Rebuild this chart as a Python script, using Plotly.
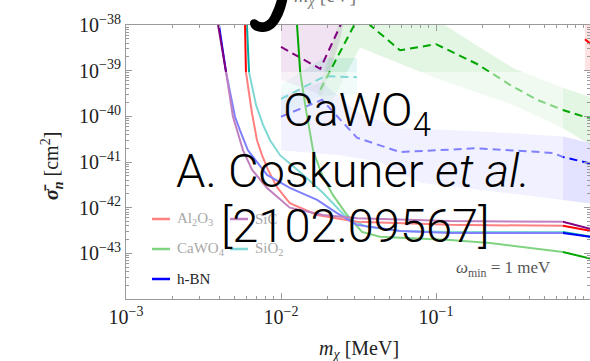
import plotly.graph_objects as go

# ---------------- reach curves, omega_min = 1 meV  (m_chi in MeV, sigma_n in cm^2)
al2o3_m = [5.77e-3, 5.86e-3, 5.94e-3, 6.03e-3, 6.50e-3, 7.00e-3, 7.54e-3, 8.24e-3,
           9.42e-3, 1.14e-2, 1.71e-2, 3.09e-2, 0.123, 0.659, 1.0]
al2o3_s = [2.1e-38, 1.0e-38, 9.3e-40, 6.3e-40, 1.17e-40, 3.0e-41, 1.41e-41, 6.8e-42,
           2.8e-42, 1.26e-42, 6.9e-43, 4.9e-43, 4.2e-43, 4.0e-43, 3.1e-43]

sic_m = [3.81e-3, 3.93e-3, 4.42e-3, 4.90e-3, 5.20e-3, 5.69e-3, 6.50e-3, 8.13e-3,
         1.14e-2, 1.87e-2, 3.09e-2, 0.123, 0.659, 1.0]
sic_s = [2.1e-38, 1.0e-38, 9.3e-40, 9.8e-41, 5.0e-41, 1.8e-41, 6.8e-42, 2.7e-42,
         1.0e-42, 6.9e-43, 5.9e-43, 5.1e-43, 4.9e-43, 3.4e-43]

hbn_m = [3.81e-3, 3.98e-3, 4.42e-3, 5.05e-3, 5.43e-3, 6.12e-3, 8.13e-3, 1.14e-2,
         1.71e-2, 2.30e-2, 3.09e-2, 5.86e-2, 0.123, 0.659, 1.0]
hbn_s = [2.1e-38, 1.0e-38, 9.3e-40, 9.8e-41, 5.0e-41, 1.8e-41, 5.2e-42, 2.7e-42,
         1.48e-42, 7.6e-43, 4.2e-43, 3.1e-43, 2.8e-43, 2.8e-43, 2.3e-43]

sio2_m = [6.00e-3, 6.03e-3, 6.22e-3, 6.90e-3, 7.66e-3, 8.50e-3, 9.86e-3, 1.33e-2,
          1.87e-2, 2.67e-2, 3.59e-2, 5.86e-2, 0.123, 0.659, 1.0]
sio2_s = [2.1e-38, 1.0e-38, 9.3e-40, 1.78e-40, 6.5e-41, 3.0e-41, 1.41e-41, 6.0e-42,
          2.1e-42, 5.9e-43, 3.8e-43, 3.1e-43, 2.95e-43, 2.95e-43, 2.3e-43]

cawo4_m = [1.25e-2, 1.27e-2, 1.33e-2, 1.45e-2, 1.61e-2, 1.84e-2, 2.16e-2, 2.67e-2,
           3.33e-2, 4.35e-2, 0.123, 0.223, 0.659, 1.0]
cawo4_s = [2.1e-38, 1.0e-38, 9.3e-40, 1.38e-40, 1.8e-41, 5.2e-42, 1.9e-42, 6.9e-43,
           2.95e-43, 2.3e-43, 1.95e-43, 1.69e-43, 1.07e-43, 7.6e-44]

# ---------------- daily-modulation cross sections (dashed)
sic_mod_m = [1.0e-2, 1.79e-2, 2.44e-2, 2.62e-2]
sic_mod_s = [3.3e-39, 1.10e-39, 1.05e-38, 2.1e-38]

cawo4_mod_m = [1.79e-2, 3.00e-2, 3.33e-2, 3.75e-2, 5.86e-2, 0.10, 0.184, 0.300, 0.449, 0.659, 0.957, 1.0]
cawo4_mod_s = [3.8e-40, 1.17e-38, 2.1e-38, 1.0e-38, 2.8e-39, 3.8e-39, 1.40e-39, 4.9e-40,
               2.3e-40, 1.38e-40, 9.2e-41, 8.8e-41]

sio2_mod_m = [1.0e-2, 1.92e-2, 3.09e-2]
sio2_mod_s = [2.4e-40, 7.6e-40, 7.2e-40]

hbn_mod_m = [1.0e-2, 1.84e-2, 3.09e-2, 5.86e-2, 0.184, 0.569, 0.659, 0.957, 1.0]
hbn_mod_s = [9.8e-41, 2.3e-40, 3.4e-41, 1.65e-41, 2.0e-41, 1.58e-41, 1.29e-41, 9.5e-42, 9.2e-42]

al2o3_mod_m = [0.914, 1.0]
al2o3_mod_s = [4.9e-39, 3.8e-39]

# ---------------- uncertainty bands (closed outlines)
sic_band_m = [1.0e-2, 2.79e-2, 2.40e-2, 1.84e-2, 1.0e-2]
sic_band_s = [4.6e-38, 4.6e-38, 4.7e-39, 2.9e-40, 6.3e-40]

cawo4_band_m = [1.73e-2, 2.33e-2, 2.40e-2, 0.106, 0.114, 0.192, 0.314, 0.659, 1.14,
                1.14, 0.659, 0.314, 0.106, 3.23e-2, 2.07e-2]
cawo4_band_s = [2.9e-40, 1.0e-38, 4.6e-38, 4.6e-38, 1.0e-38, 3.2e-39, 1.15e-39, 4.2e-40, 2.3e-40,
                1.8e-41, 5.5e-41, 1.78e-40, 6.3e-40, 3.2e-39, 1.78e-40]

sio2_band_m = [1.0e-2, 1.87e-2, 3.09e-2, 3.09e-2, 1.87e-2, 1.0e-2]
sio2_band_s = [4.9e-40, 1.9e-39, 1.9e-39, 2.9e-40, 2.9e-40, 1.07e-40]

hbn_band_m = [1.0e-2, 1.84e-2, 3.09e-2, 5.86e-2, 0.173, 0.659, 1.14,
              1.14, 0.659, 7.9e-2, 4.35e-2, 2.40e-2, 1.0e-2]
hbn_band_s = [2.9e-40, 5.6e-40, 1.26e-40, 5.5e-41, 4.8e-41, 3.6e-41, 2.3e-41,
              1.15e-42, 1.48e-42, 3.5e-42, 1.0e-41, 1.41e-41, 1.8e-41]

al2o3_band_m = [0.914, 1.14, 1.14, 0.914]
al2o3_band_s = [4.6e-38, 4.6e-38, 1.03e-39, 1.03e-39]

x_ticks = [1e-3, 1e-2, 1e-1]
x_ticktext = ["10<sup>−3</sup>", "10<sup>−2</sup>", "10<sup>−1</sup>"]
y_ticks = [1e-43, 1e-42, 1e-41, 1e-40, 1e-39, 1e-38]
y_ticktext = ["10<sup>−43</sup>", "10<sup>−42</sup>", "10<sup>−41</sup>",
              "10<sup>−40</sup>", "10<sup>−39</sup>", "10<sup>−38</sup>"]

RED, GREEN, PURPLE, BLUE, CYAN = "#ff0000", "#00a600", "#800080", "#0000ff", "#00b0a8"

W, H = 590, 361
L, R, T, B = 126, 0, 25, 62
PW, PH = W - L - R, H - T - B


def px(x, y):
    """page pixel -> paper coordinates"""
    return (x - L) / PW, (H - B - y) / PH


def rgba(hexcol, a):
    h = hexcol.lstrip("#")
    return f"rgba({int(h[0:2],16)},{int(h[2:4],16)},{int(h[4:6],16)},{a})"


fig = go.Figure()

for bm, bs, col in [(hbn_band_m, hbn_band_s, BLUE), (sio2_band_m, sio2_band_s, CYAN),
                    (sic_band_m, sic_band_s, PURPLE), (cawo4_band_m, cawo4_band_s, GREEN),
                    (al2o3_band_m, al2o3_band_s, RED)]:
    fig.add_trace(go.Scatter(x=bm + bm[:1], y=bs + bs[:1], mode="lines", fill="toself",
                             fillcolor=rgba(col, 0.11), line=dict(width=0),
                             hoverinfo="skip", showlegend=False))

for mm, ms, col in [(hbn_mod_m, hbn_mod_s, BLUE), (sio2_mod_m, sio2_mod_s, CYAN),
                    (sic_mod_m, sic_mod_s, PURPLE), (cawo4_mod_m, cawo4_mod_s, GREEN),
                    (al2o3_mod_m, al2o3_mod_s, RED)]:
    fig.add_trace(go.Scatter(x=mm, y=ms, mode="lines",
                             line=dict(color=col, width=2, dash="8px,5px"),
                             showlegend=False))

for mm, ms, col in [(cawo4_m, cawo4_s, GREEN), (sio2_m, sio2_s, CYAN), (al2o3_m, al2o3_s, RED),
                    (hbn_m, hbn_s, BLUE), (sic_m, sic_s, PURPLE)]:
    fig.add_trace(go.Scatter(x=mm, y=ms, mode="lines", line=dict(color=col, width=2),
                             showlegend=False))

shapes = []
annotations = []

# legend swatches (drawn under the translucent panel)
legend_items = [
    ("Al<sub>2</sub>O<sub>3</sub>", RED, 152, 219),
    ("SiC", PURPLE, 230, 219),
    ("CaWO<sub>4</sub>", GREEN, 152, 249),
    ("SiO<sub>2</sub>", CYAN, 230, 249),
    ("h-BN", BLUE, 152, 279),
]
for label, col, lx, ly in legend_items:
    x0, y0 = px(lx, ly)
    x1, _ = px(lx + 18, ly)
    shapes.append(dict(type="line", xref="paper", yref="paper", x0=x0, x1=x1, y0=y0, y1=y0,
                       line=dict(color=col, width=2.5), layer="above"))

# translucent white panel behind the caption
bx0, by0 = px(132, 262)
bx1, by1 = px(563, 72)
shapes.append(dict(type="rect", xref="paper", yref="paper", x0=bx0, x1=bx1, y0=by0, y1=by1,
                   fillcolor="rgba(255,255,255,0.5)", line=dict(width=0), layer="above"))

for label, col, lx, ly in legend_items:
    tx, ty = px(lx + 23, ly)
    inside = ly < 262
    annotations.append(dict(xref="paper", yref="paper", x=tx, y=ty, xanchor="left",
                            yanchor="middle", showarrow=False, text=label,
                            font=dict(family="Liberation Serif", size=15,
                                      color="#a8a8a8" if inside else "#222")))

# integral sign from the heading above
def P(x, y):
    a, b = px(x, y)
    return f"{a:.5f},{b:.5f}"

glyph = (f"M {P(288,-4)} C {P(285,14)} {P(277,33)} {P(262,32)} "
         f"C {P(255,32)} {P(250,28)} {P(250,23)} C {P(250,19)} {P(255,18)} {P(258,21)} "
         f"C {P(262,24)} {P(268,22)} {P(271,15)} C {P(274,9)} {P(276,3)} {P(278,-4)} Z")
shapes.append(dict(type="path", xref="paper", yref="paper", path=glyph,
                   fillcolor="black", line=dict(width=0), layer="above"))

def ann(x, y, text, size, color="black", family="Roboto", weight=None, **kw):
    ax, ay = px(x, y)
    font = dict(family=family, size=size, color=color)
    if weight is not None:
        font["weight"] = weight
    d = dict(xref="paper", yref="paper", x=ax, y=ay, text=text, showarrow=False,
             xanchor="center", yanchor="middle", font=font)
    d.update(kw)
    annotations.append(d)

ann(325, -3, "<i>m</i><sub><i>χ</i></sub> [eV]", 20, "#777", "Liberation Serif")
ann(503, 269, "<i>ω</i><sub>min</sub> = 1 meV", 17, "#555", "Liberation Serif")
ann(359, 349, "<i>m</i><sub><i>χ</i></sub> [MeV]", 20, "#222", "Liberation Serif")
ann(52, 166, "<b><i>σ̄</i></b><sub><b><i>n</i></b></sub> [cm<sup>2</sup>]", 20, "#222",
    "Liberation Serif", textangle=-90)

# caption
ann(357, 113, "CaWO<sub>4</sub>", 47, weight=300)
ann(353, 170, "A. Coskuner <i>et al.</i>", 47, weight=300)
ann(355, 226, "[2102.09567]", 47, weight=300)

axis_common = dict(type="log", showgrid=False, zeroline=False, showline=True,
                   linecolor="#9a9a9a", linewidth=1, mirror="allticks", ticks="inside",
                   ticklen=6, tickcolor="#9a9a9a", tickwidth=1,
                   tickfont=dict(family="Liberation Serif", size=20, color="#222"),
                   minor=dict(ticks="inside", ticklen=3, tickcolor="#9a9a9a", dtick="D1",
                              showgrid=False))

fig.update_layout(
    width=W, height=H, margin=dict(l=L, r=R, t=T, b=B, pad=0),
    paper_bgcolor="white", plot_bgcolor="white", showlegend=False,
    xaxis=dict(axis_common, range=[-3, -0.0065], tickvals=x_ticks, ticktext=x_ticktext),
    yaxis=dict(axis_common, range=[-44, -38], tickvals=y_ticks, ticktext=y_ticktext),
    shapes=shapes, annotations=annotations,
)

fig.write_html("out.html")
